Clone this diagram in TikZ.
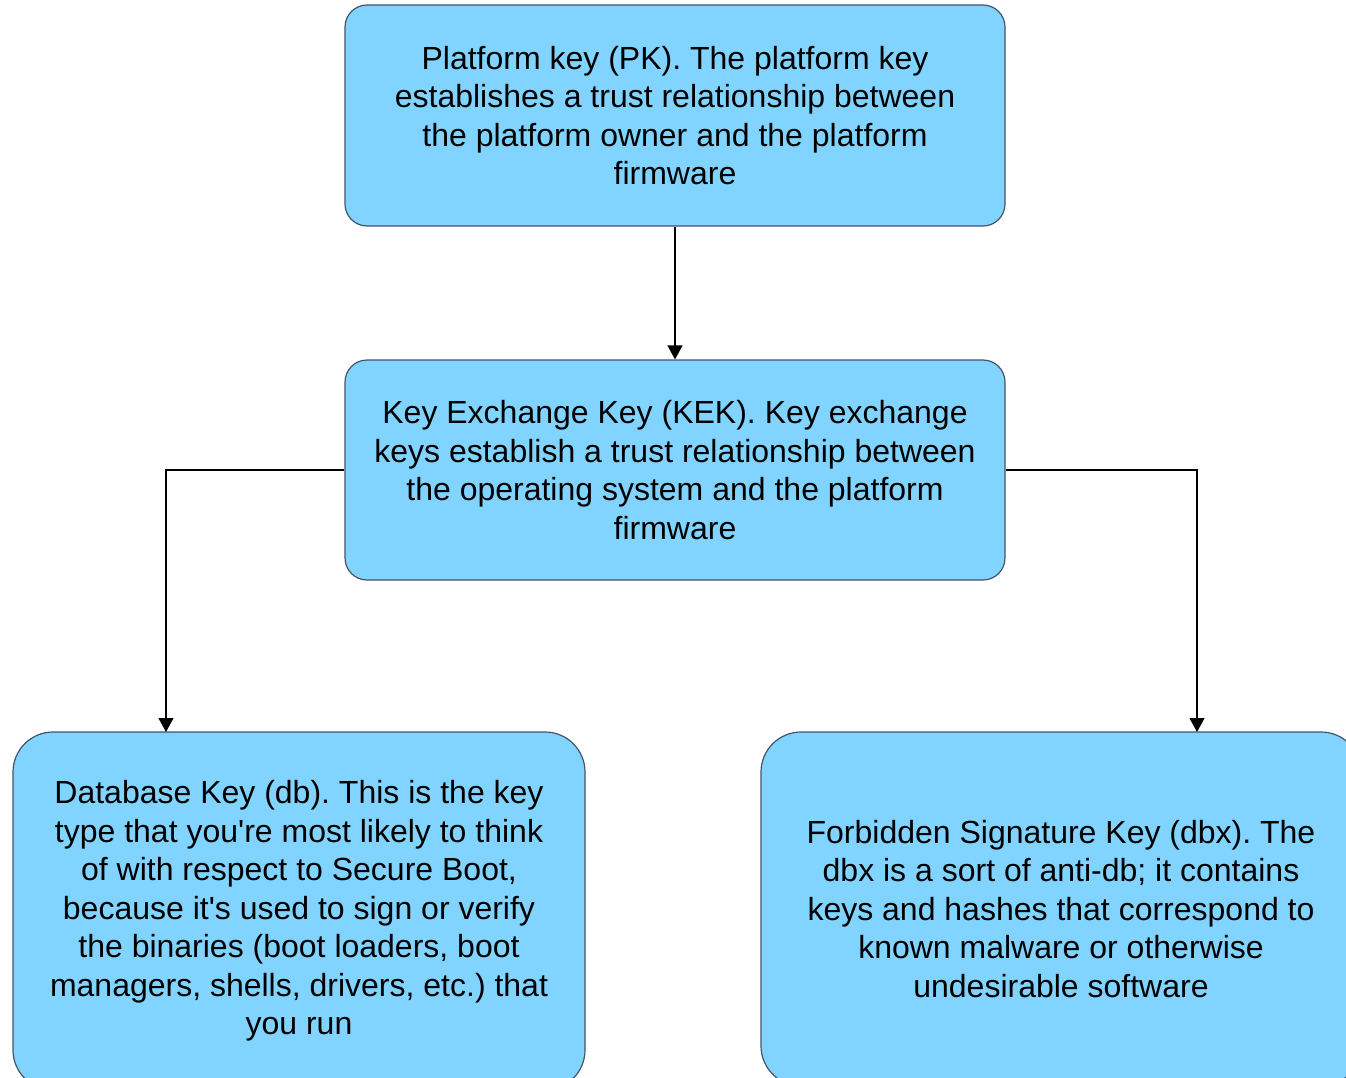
\documentclass[tikz,border=0pt]{standalone}
\usepackage{fontspec}
\setmainfont{Liberation Sans}[Ligatures=TeXOff]
\usetikzlibrary{arrows.meta}
\definecolor{boxfill}{HTML}{80D4FF}
\definecolor{boxline}{HTML}{44546A}
\frenchspacing
\begin{document}
\begin{tikzpicture}[x=1pt,y=-1pt,
  keybox/.style={draw=boxline, line width=1.2pt, fill=boxfill, align=center,
    font=\fontsize{32}{38.5}\selectfont, inner sep=0pt},
  arr/.style={draw=black, line width=1.2pt, -{Triangle[width=15pt,length=14pt]}}]
\clip (0,0) rectangle (1346,1078);
\node[keybox, rounded corners=22pt, minimum width=660pt, minimum height=221pt] (pk) at (675,115.5)
  {Platform key (PK). The platform key\\establishes a trust relationship between\\the platform owner and the platform\\firmware};
\node[keybox, rounded corners=22pt, minimum width=660pt, minimum height=220pt] (kek) at (675,470)
  {Key Exchange Key (KEK). Key exchange\\keys establish a trust relationship between\\the operating system and the platform\\firmware};
\node[keybox, rounded corners=40pt, minimum width=572pt, minimum height=358pt] (db) at (299,911)
  {Database Key (db). This is the key\\type that you're most likely to think\\of with respect to Secure Boot,\\because it's used to sign or verify\\the binaries (boot loaders, boot\\managers, shells, drivers, etc.) that\\you run};
\node[keybox, rounded corners=40pt, minimum width=600pt, minimum height=354pt] (dbx) at (1061,909)
  {Forbidden Signature Key (dbx). The\\dbx is a sort of anti-db; it contains\\keys and hashes that correspond to\\known malware or otherwise\\undesirable software};
\coordinate (dbin) at (166,732);
\coordinate (dbxin) at (1197,732);
\draw[arr] (pk.south) -- (kek.north);
\draw[arr] (kek.west) -| (dbin);
\draw[arr] (kek.east) -| (dbxin);
\end{tikzpicture}
\end{document}
